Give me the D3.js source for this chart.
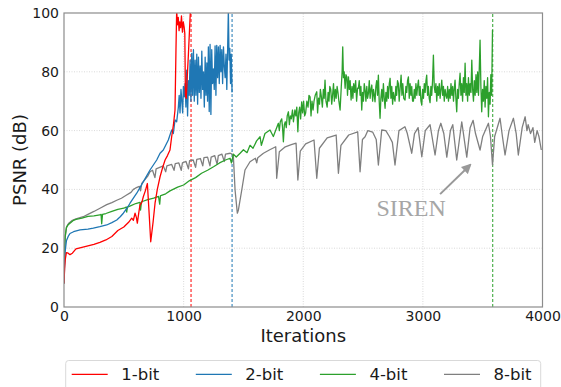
<!DOCTYPE html>
<html>
<head>
<meta charset="utf-8">
<script src="https://cdn.jsdelivr.net/npm/d3@7"></script>
<style>
  body { margin: 0; background: #fff; }
  svg { display: block; font-family: "DejaVu Sans", sans-serif; }
</style>
</head>
<body>
<div id="chart"></div>
<script>
// valeurs : [iteration, PSNR dB]
const bit1 = [[0,8],[5,13],[10,16],[20,18.5],[35,18.3],[50,17.8],[70,18.3],[100,19.8],[150,20.3],[200,20.8],[250,21.3],[300,22],[350,22.8],[400,24],[450,26],[500,27.2],[540,28.8],[566,30.2],[580,29.5],[594,31.9],[605,30.5],[613,28.5],[625,32],[635,34.7],[650,35.5],[663,37.5],[680,39.5],[697,42],[710,33],[725,22.2],[745,29],[761,35.3],[780,40],[803,44.3],[825,47.5],[845,50],[865,51.5],[886,53.4],[900,57.9],[915,62],[928,67],[936,87.4],[942,101],[948,96],[955,98.5],[962,94],[968,97],[975,95],[982,99],[990,93.5],[997,97],[1005,95],[1010,93],[1015,72],[1022,71],[1030,78],[1040,86],[1050,95],[1058,102],[1062,104]];

const bit2 = [[0,8],[5,14],[10,19],[20,22.5],[35,24],[50,25],[80,25.6],[134,26.2],[200,26.5],[245,26.8],[300,27.3],[357,27.9],[400,28.7],[441,29.6],[470,30.7],[496,31.9],[525,33.5],[552,35.3],[580,37],[608,38.7],[635,40.6],[663,42.6],[690,44.5],[719,46.6],[747,48.3],[775,50],[803,52.3],[830,53.4],[850,55],[872,56.8],[886,58.5],[900,60.2],[914,59],[928,63.6],[942,63],[956,68],[963,72],[970,66],[978,74],[985,70],[992,66],[998,75],[1005,71.5],[1012,76],[1019,68],[1026,80.6],[1033,65],[1040,77],[1047,72],[1054,84],[1061,70],[1068,86.3],[1075,72],[1082,87.5],[1089,70],[1096,84],[1103,72],[1110,86],[1117,69],[1124,85],[1131,73],[1138,82],[1145,71],[1152,87],[1159,74],[1166,80],[1173,68],[1180,85],[1187,72],[1194,83],[1200,70],[1207,88.5],[1214,66.5],[1221,89.3],[1228,65.5],[1235,87.5],[1242,76],[1249,81],[1256,74],[1263,88.8],[1270,72],[1277,89],[1284,78],[1291,88.5],[1298,76],[1305,89],[1312,80],[1319,87.5],[1326,76],[1333,88.5],[1340,82],[1347,78],[1354,86],[1361,74],[1368,88],[1374,101],[1380,84],[1386,88],[1392,76],[1398,86],[1405,73]];

const bit4 = [[0,8],[5,18],[10,24],[20,27],[35,28],[50,28.5],[80,29.5],[100,29.8],[150,30.2],[200,30.8],[250,31],[300,31.3],[310,31.5],[315,28.3],[322,31.5],[350,31.8],[400,32.5],[450,33.2],[500,33.6],[520,34],[524,32.3],[530,34],[560,34.5],[600,35.2],[635,35.6],[640,33],[648,35.8],[700,36.5],[750,37],[790,37.6],[800,35],[806,37.8],[815,38],[850,38.5],[886,39.5],[950,40.8],[1000,41.5],[1050,43],[1100,44],[1150,45.5],[1200,46.5],[1250,47.7],[1300,49],[1350,50],[1388,50.6],[1400,49],[1416,52],[1440,51],[1472,52.3],[1500,53.5],[1530,52.5],[1555,55],[1580,54],[1610,56.5],[1639,57.9],[1650,55],[1680,59],[1722,60.2],[1750,58],
  [1792,62.5],[1800,60],[1808,63],[1820,64],[1827,61],[1834,56.2],[1842,62],[1850,63],[1858,61],[1866,65],[1876,66.4],[1884,62],[1892,65],[1900,64],[1910,67],[1918,63],[1930,67],[1938,65],[1946,68],[1955,59.6],[1962,66],[1970,68],[1978,64],[1987,69.8],[1995,66],[2003,70],[2012,65],[2020,66],[2030,70],[2040,68],[2048,72],[2057,71.5],[2065,65],[2073,70],[2082,67],[2090,70],[2100,72],[2113,73.2],[2120,66],[2128,71],[2136,69],[2143,74],[2150,72],[2160,68],[2168,74],[2175,71],[2182,77.2],[2190,70],[2200,68],[2208,73],[2215,70],[2222,75],[2230,74],[2238,69],[2245,72],[2253,76],[2260,70],[2268,74],[2275,71],[2283,75],[2290,73],[2298,70],[2308,67],[2318,75],[2325,80],
  [2330,88.5],[2336,78],[2342,80],[2350,74.4],[2357,79],[2364,78.3],[2370,72],[2378,78.3],[2385,74],[2392,77],[2400,70.4],[2408,75],[2415,71],[2422,76],[2430,73],[2438,77],[2446,70],[2454,74.4],[2461,74.4],[2468,77],[2475,72],[2482,75],[2489,67],[2496,73],[2503,70],[2510,76],[2517,73.8],[2524,70],[2531,75],[2538,71],[2545,72.7],[2552,77],[2559,71],[2566,74],[2573,75.5],[2580,70],[2587,74],[2594,72],[2600,69.8],[2607,75],[2614,77],[2621,72],[2628,78.9],[2635,70],[2642,64.2],[2649,71],[2656,74],[2663,70],[2670,76],[2677,71],[2684,67.6],[2691,73],[2698,70],[2705,75],[2712,71],[2719,76],[2726,77.8],[2733,71],[2740,75],[2747,69],[2754,73],[2761,71],[2767,70],[2774,75],[2781,72],[2788,77],[2795,76],[2802,70],[2809,74],[2818,78.9],[2825,72],[2832,76],[2840,71],[2851,70.4],[2858,75],[2865,73],[2872,77],[2879,78.3],[2886,71],[2893,76],[2900,72],[2907,75],[2914,70],[2921,70],[2928,74],[2935,71],[2942,76],[2949,72],[2956,75],[2963,77.2],[2970,72],[2977,75],[2984,70],[2991,68.7],[2998,74],[3005,71],[3012,76],[3019,73],[3026,77],[3032,78.9],[3039,72],[3046,75],[3053,71],[3060,69.5],[3067,75],[3074,72],[3081,77],[3088,85.7],[3095,75],[3102,73],[3109,76],[3116,70],[3123,75],[3130,72],[3137,76],[3144,71],[3151,74],[3158,77.2],[3165,72],[3172,75],[3179,70],[3186,74],[3193,72],[3200,71],[3207,75],[3214,70],[3221,74],[3228,71],[3235,76],[3242,72],[3249,75],[3256,70],[3262,74],[3269,77.2],[3276,71],[3283,66.4],[3290,74],[3297,71],[3304,76],[3311,79.5],[3318,72],[3325,76],[3332,70],[3339,78],[3346,73],[3353,82.9],[3360,72],[3367,76],[3374,70],[3381,78],[3388,72],[3395,76],[3402,73],[3409,84],[3416,74],[3423,70],[3430,77],[3437,72],[3444,79],[3451,73],[3458,80],[3465,72],[3472,82],[3478,90.8],[3485,75],[3492,66.4],[3499,74],[3506,70],[3513,77],[3520,68],[3527,75],[3534,71],[3541,78],[3548,64.7],[3555,73],[3562,69],[3568,79],[3575,72],[3582,94.2]];

const bit8 = [[0,8],[5,20],[10,24],[22,27.3],[40,28.5],[70,29.5],[100,30],[161,30.7],[200,31.5],[250,32.5],[301,33.6],[357,34.8],[400,35.5],[441,36.3],[480,37],[520,38],[560,39],[580,40],[600,40.5],[630,41],[640,39.5],[650,42],[700,44.5],[719,46],[740,46.5],[760,44],[770,47],[800,47.5],[830,48],[850,46],[860,48],[900,48.5],[920,46.5],[930,48.8],[960,49],[980,46.5],[990,49],[1020,49.5],[1040,47],[1050,49.8],[1080,50],[1100,47.5],[1110,50.2],[1140,50.5],[1160,48],[1170,50.8],[1200,51],[1220,48],[1230,51],[1260,51.5],[1280,48.5],[1290,51.5],[1320,52],[1340,49.5],[1350,52],[1390,52.3],[1405,52],[1416,51.1],[1430,39.8],[1449,31.9],[1458,33],[1486,39.8],[1513,46.6],[1555,49.4],[1600,50.6],[1611,49],[1620,50.8],[1667,52.3],[1720,53.5],[1770,54.5],[1778,43.8],[1800,52.8],[1850,54.5],[1900,55.2],[1940,55.7],[1955,43.2],[1975,53],[2020,55.5],[2090,56.8],[2113,43.8],[2135,54],[2200,57.5],[2275,58.5],[2294,45.5],[2315,55],[2380,58.5],[2455,59.6],[2475,46],[2495,57],[2517,57.9],[2540,60],[2580,59.5],[2610,57],[2628,48.3],[2656,60.2],[2690,60],[2720,58],[2745,56],[2767,48.3],[2800,60],[2850,61.3],[2870,59],[2907,52.3],[2930,59],[2960,61],[2991,51.1],[3020,60],[3060,62],[3102,51.7],[3130,60],[3150,62.5],[3175,59],[3200,51],[3230,60],[3250,62],[3283,50],[3325,63],[3367,51],[3395,61],[3420,63.5],[3440,59],[3478,53.4],[3500,58],[3548,62.5],[3565,58],[3582,48.3],[3600,58],[3645,64.2],[3665,58],[3687,51.7],[3720,60],[3757,64.2],[3780,59],[3798,51.7],[3830,61],[3855,64.7],[3870,60],[3880,62],[3900,59],[3920,61],[3935,56],[3955,60],[3970,58],[3990,53.4]];

const labels = ["1-bit", "2-bit", "4-bit", "8-bit"];
const colors = ["#ff0000", "#1f77b4", "#2ca02c", "#7f7f7f"];
const stopIters = [1062, 1405, 3584];   // lignes verticales pointillees (1, 2, 4 bits)
const xTicks = [0, 1000, 2000, 3000, 4000];
const yTicks = [0, 20, 40, 60, 80, 100];
const arrowFrom = [3144, 38.4], arrowTo = [3395, 48.3], sirenAt = [2612, 30.8];

const width = 561, height = 387;
const margin = {top: 13, right: 18.5, bottom: 80, left: 64};

const svg = d3.select("#chart").append("svg")
    .attr("width", width)
    .attr("height", height);

const x = d3.scaleLinear().domain([0, 4000]).range([margin.left, width - margin.right]);
const y = d3.scaleLinear().domain([0, 100]).range([height - margin.bottom, margin.top]);

svg.append("clipPath").attr("id", "plot")
    .append("rect")
    .attr("x", x(0)).attr("y", y(100))
    .attr("width", x(4000) - x(0)).attr("height", y(0) - y(100));

// grille pointillee
const grid = svg.append("g").attr("stroke", "#cfcfcf").attr("stroke-width", 0.8).attr("stroke-dasharray", "1,1.5");
grid.selectAll(".gx").data(xTicks.slice(1, -1)).join("line")
    .attr("x1", d => x(d)).attr("x2", d => x(d))
    .attr("y1", y(0)).attr("y2", y(100));
grid.selectAll(".gy").data(yTicks.slice(1, -1)).join("line")
    .attr("x1", x(0)).attr("x2", x(4000))
    .attr("y1", d => y(d)).attr("y2", d => y(d));

const line = d3.line().x(d => x(d[0])).y(d => y(d[1]));
const series = [bit1, bit2, bit4, bit8];

const plot = svg.append("g").attr("clip-path", "url(#plot)");

// lignes verticales de fin
plot.selectAll(".stop").data(stopIters).join("line")
    .attr("x1", d => x(d)).attr("x2", d => x(d))
    .attr("y1", y(0)).attr("y2", y(100))
    .attr("stroke", (d, i) => colors[i])
    .attr("stroke-width", 1)
    .attr("stroke-dasharray", "3,2");

// courbes, 8 bits dessine en premier
plot.selectAll(".serie").data([3, 2, 1, 0]).join("path")
    .attr("d", i => line(series[i]))
    .attr("fill", "none")
    .attr("stroke", i => colors[i])
    .attr("stroke-width", 1.3)
    .attr("stroke-linejoin", "round");

// cadre
svg.append("rect")
    .attr("x", x(0)).attr("y", y(100))
    .attr("width", x(4000) - x(0)).attr("height", y(0) - y(100))
    .attr("fill", "none").attr("stroke", "#8c8c8c").attr("stroke-width", 1.2);

// axes sans graduations
const xAxis = svg.append("g")
    .attr("transform", "translate(0," + y(0) + ")")
    .call(d3.axisBottom(x).tickValues(xTicks).tickSize(0).tickPadding(4).tickFormat(d3.format("d")));
const yAxis = svg.append("g")
    .attr("transform", "translate(" + x(0) + ",0)")
    .call(d3.axisLeft(y).tickValues(yTicks).tickSize(0).tickPadding(5).tickFormat(d3.format("d")));
[xAxis, yAxis].forEach(a => {
    a.select(".domain").remove();
    a.selectAll("text").attr("font-family", "DejaVu Sans").attr("font-size", "14px").attr("fill", "#1a1a1a");
});

svg.append("text")
    .attr("x", (x(0) + x(4000)) / 2).attr("y", 342)
    .attr("text-anchor", "middle")
    .attr("font-size", "18px").attr("fill", "#1a1a1a")
    .text("Iterations");

svg.append("text")
    .attr("transform", "translate(25.5," + (y(0) + y(100)) / 2 + ") rotate(-90)")
    .attr("text-anchor", "middle")
    .attr("font-size", "18px").attr("fill", "#1a1a1a")
    .text("PSNR (dB)");

// annotation SIREN
svg.append("defs").append("marker")
    .attr("id", "fleche")
    .attr("viewBox", "0 0 10 10").attr("refX", 8).attr("refY", 5)
    .attr("markerWidth", 5).attr("markerHeight", 5).attr("orient", "auto")
    .append("path").attr("d", "M0,0L10,5L0,10Z").attr("fill", "#999");
svg.append("line")
    .attr("x1", x(arrowFrom[0])).attr("y1", y(arrowFrom[1]))
    .attr("x2", x(arrowTo[0])).attr("y2", y(arrowTo[1]))
    .attr("stroke", "#999").attr("stroke-width", 2)
    .attr("marker-end", "url(#fleche)");
svg.append("text")
    .attr("x", x(sirenAt[0])).attr("y", y(sirenAt[1]))
    .attr("font-family", "Liberation Serif, serif")
    .attr("font-size", "24px").attr("fill", "#a6a6a6")
    .text("SIREN");

// legende
const legend = svg.append("g");
legend.append("rect")
    .attr("x", 65.7).attr("y", 360.5)
    .attr("width", 475).attr("height", 40)
    .attr("rx", 3)
    .attr("fill", "#fff").attr("stroke", "#d9d9d9").attr("stroke-width", 1);
const item = legend.selectAll(".item").data(labels).join("g")
    .attr("transform", (d, i) => "translate(" + (71.7 + i * 124.1) + ",374.3)");
item.append("line")
    .attr("x1", 0).attr("x2", 36)
    .attr("stroke", (d, i) => colors[i]).attr("stroke-width", 1.3);
item.append("text")
    .attr("x", 49.5).attr("y", 6)
    .attr("font-size", "16.5px").attr("fill", "#1a1a1a")
    .text(d => d);
</script>
</body>
</html>
